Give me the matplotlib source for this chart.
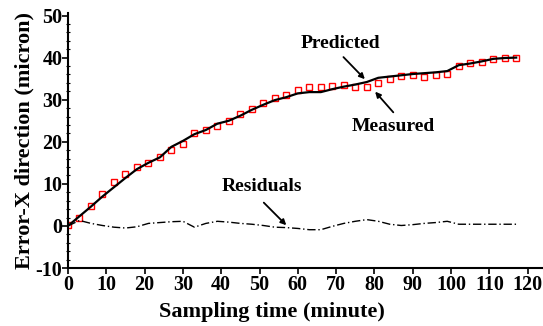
import numpy as np
import matplotlib
matplotlib.use("Agg")
import matplotlib.pyplot as plt
from matplotlib.ticker import MultipleLocator

plt.rcParams['font.family'] = ['Liberation Serif', 'DejaVu Serif']
plt.rcParams['font.weight'] = 'bold'
plt.rcParams['axes.unicode_minus'] = False

# sampling times (minute)
t = np.arange(0, 120, 3)

measured = [0.2, 1.9, 4.8, 7.6, 10.4, 12.3, 14.1, 14.9, 16.4, 18.1,
            19.4, 22.2, 22.7, 23.8, 24.9, 26.5, 27.9, 29.1, 30.3, 31.1,
            32.3, 33.0, 33.0, 33.2, 33.4, 32.9, 32.9, 33.9, 35.0, 35.6,
            35.8, 35.5, 35.8, 36.1, 38.0, 38.6, 39.0, 39.7, 40.0, 39.8]

predicted = [0.0, 2.3, 4.6, 7.0, 9.2, 11.4, 13.5, 15.0, 16.3, 18.8,
             20.2, 21.8, 22.8, 24.3, 25.0, 26.2, 27.6, 28.8, 29.9, 30.6,
             31.5, 31.8, 31.8, 32.5, 33.1, 33.6, 34.2, 35.2, 35.5, 35.8,
             36.1, 36.3, 36.5, 36.8, 38.2, 38.6, 39.1, 39.7, 39.9, 40.0]

residuals = [0.0, 1.3, 0.6, 0.1, -0.3, -0.5, -0.2, 0.6, 0.8, 1.0,
             1.1, -0.3, 0.6, 1.1, 0.9, 0.6, 0.4, 0.1, -0.3, -0.4,
             -0.6, -0.9, -0.9, -0.1, 0.6, 1.1, 1.5, 1.1, 0.4, 0.1,
             0.3, 0.6, 0.8, 1.1, 0.4, 0.4, 0.4, 0.4, 0.4, 0.4]

fig = plt.figure(figsize=(5.43, 3.26), dpi=100)
ax = fig.add_axes([68/543, 58/326, 475/543, 255/326])

ax.plot(t, measured, 's', mfc='none', mec='red', ms=5, mew=1.0)
ax.plot(t, predicted, '-', color='black', lw=1.6)
ax.plot(t, residuals, color='black', lw=1.0, ls=(0, (6, 2, 1, 2)))

arr = dict(arrowstyle='-|>', color='black', lw=1.3, mutation_scale=8)
ax.annotate('', xy=(78, 34.4), xytext=(71.4, 40.6), arrowprops=arr)
ax.text(71, 43.3, 'Predicted', ha='center', va='center', fontsize=14)
ax.annotate('', xy=(79.7, 32.4), xytext=(85.4, 26.5), arrowprops=arr)
ax.text(85, 23.6, 'Measured', ha='center', va='center', fontsize=14)
ax.annotate('', xy=(57.5, -0.3), xytext=(50.6, 6.0), arrowprops=arr)
ax.text(50.7, 9.4, 'Residuals', ha='center', va='center', fontsize=14)

ax.set_xlim(0, 124)
ax.set_ylim(-10, 50.6)
ax.set_xticks(np.arange(0, 121, 10))
ax.set_yticks(np.arange(-10, 51, 10))
ax.yaxis.set_minor_locator(MultipleLocator(2))
ax.spines['top'].set_visible(False)
ax.spines['right'].set_visible(False)
ax.spines['left'].set_linewidth(1.5)
ax.spines['bottom'].set_linewidth(1.5)
ax.tick_params(axis='both', which='major', labelsize=14.5, length=4, width=1.2)
ax.tick_params(axis='y', which='minor', length=3, width=0.8, direction='inout')
ax.tick_params(axis='x', pad=1)
ax.tick_params(axis='y', pad=0)

ax.set_xlabel('Sampling time (minute)', fontsize=16, fontweight='bold')
ax.set_ylabel('Error-X direction (micron)', fontsize=16, fontweight='bold', labelpad=1)
ax.xaxis.set_label_coords(0.43, -0.135)

fig.savefig('out.png', dpi=100)
